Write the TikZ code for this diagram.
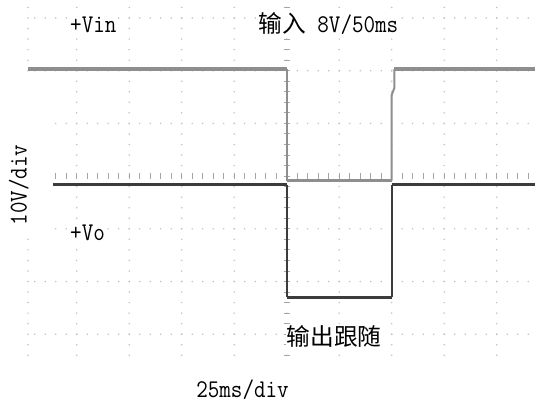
\documentclass[tikz,border=0pt]{standalone}
\usepackage{fontspec}
\newfontfamily\cjk{Noto Sans CJK SC}
\definecolor{vincolor}{HTML}{8E8E8E}
\definecolor{vocolor}{HTML}{3C3C3C}
\definecolor{dotcolor}{HTML}{C2C2C2}
\newcommand{\scopefont}[1]{\scalebox{0.88}[1]{\ttfamily\fontsize{25.5bp}{30bp}\selectfont #1}}

\tikzset{
  griddot/.style={fill=dotcolor},
  axistick/.style={draw=dotcolor!85!black, line width=0.9bp},
  vinlevel/.style={draw=vincolor, line width=3.5bp},
  vinedge/.style={draw=vincolor, line width=2bp},
  volevel/.style={draw=vocolor, line width=3bp},
  voedge/.style={draw=vocolor, line width=2bp},
  scopetext/.style={fill=white, inner sep=1bp},
  cjktext/.style={fill=white, inner sep=1bp, font=\cjk\fontsize{23.7bp}{28bp}\selectfont}
}

\begin{document}
\begin{tikzpicture}[x=1bp,y=-1bp]
\useasboundingbox[fill=white] (0,0) rectangle (535,405);

% grid dots
\foreach \j in {-4,...,4}
  \foreach \k in {-16,...,17}
    \fill[griddot] (286.7+52.5*\j,176.1+10.54*\k) circle (0.85);
\foreach \k in {-16,...,17}
  \fill[griddot] (28,176.1+10.54*\k) circle (0.85);
\foreach \i in {-3,-2,-1,1,2,3}
  \foreach \k in {-24,...,23}
    \fill[griddot] (286.7+10.5*\k,176.1+52.7*\i) circle (0.85);

% centre axes with ticks
\foreach \k in {-24,...,23}
  \draw[axistick] (286.7+10.5*\k,173) -- (286.7+10.5*\k,179.2);
\foreach \k in {-16,...,17}
  \draw[axistick] (283.7,176.1+10.54*\k) -- (289.7,176.1+10.54*\k);

% label area on the left
\fill[white] (0,75) rectangle (51,236);

% +Vin trace
\coordinate (inA) at (28,69);
\coordinate (inB) at (286.7,69);
\coordinate (inC) at (286.7,180.5);
\coordinate (inD) at (391.7,180.5);
\coordinate (inE) at (391.7,95);
\coordinate (inF) at (394.3,88);
\coordinate (inG) at (394.3,69);
\coordinate (inH) at (535,69);
\draw[vinlevel] (inA) -- (inB);
\draw[vinedge] (inB) -- (inC);
\draw[vinlevel] (inC) -- (inD);
\draw[vinedge] (inD) -- (inE) -- (inF) -- (inG);
\draw[vinlevel] (inG) -- (inH);

% +Vo trace
\coordinate (oA) at (53,184.5);
\coordinate (oB) at (286.7,184.5);
\coordinate (oC) at (286.7,297);
\coordinate (oD) at (392,297);
\coordinate (oE) at (392,184.5);
\coordinate (oF) at (535,184.5);
\draw[volevel] (oA) -- (oB);
\draw[voedge] (oB) -- (oC);
\draw[volevel] (oC) -- (oD);
\draw[voedge] (oD) -- (oE);
\draw[volevel] (oE) -- (oF);

% texts
\node[scopetext, anchor=base west] (vin) at (69,32.3) {\scopefont{+Vin}};
\node[scopetext, anchor=base east] (input) at (399.5,32.3) {{\cjk\fontsize{23.7bp}{28bp}\selectfont 输入}\scopefont{ 8V/50ms}};
\node[scopetext, anchor=base west] (vo) at (69,240.7) {\scopefont{+Vo}};
\node[cjktext, anchor=west] (follow) at (285.5,336) {输出跟随};
\node[scopetext, anchor=base, rotate=90] (ydiv) at (26.7,185) {\scopefont{10V/div}};
\node[scopetext, anchor=base] (xdiv) at (242.5,397.3) {\scopefont{25ms/div}};
\end{tikzpicture}
\end{document}
